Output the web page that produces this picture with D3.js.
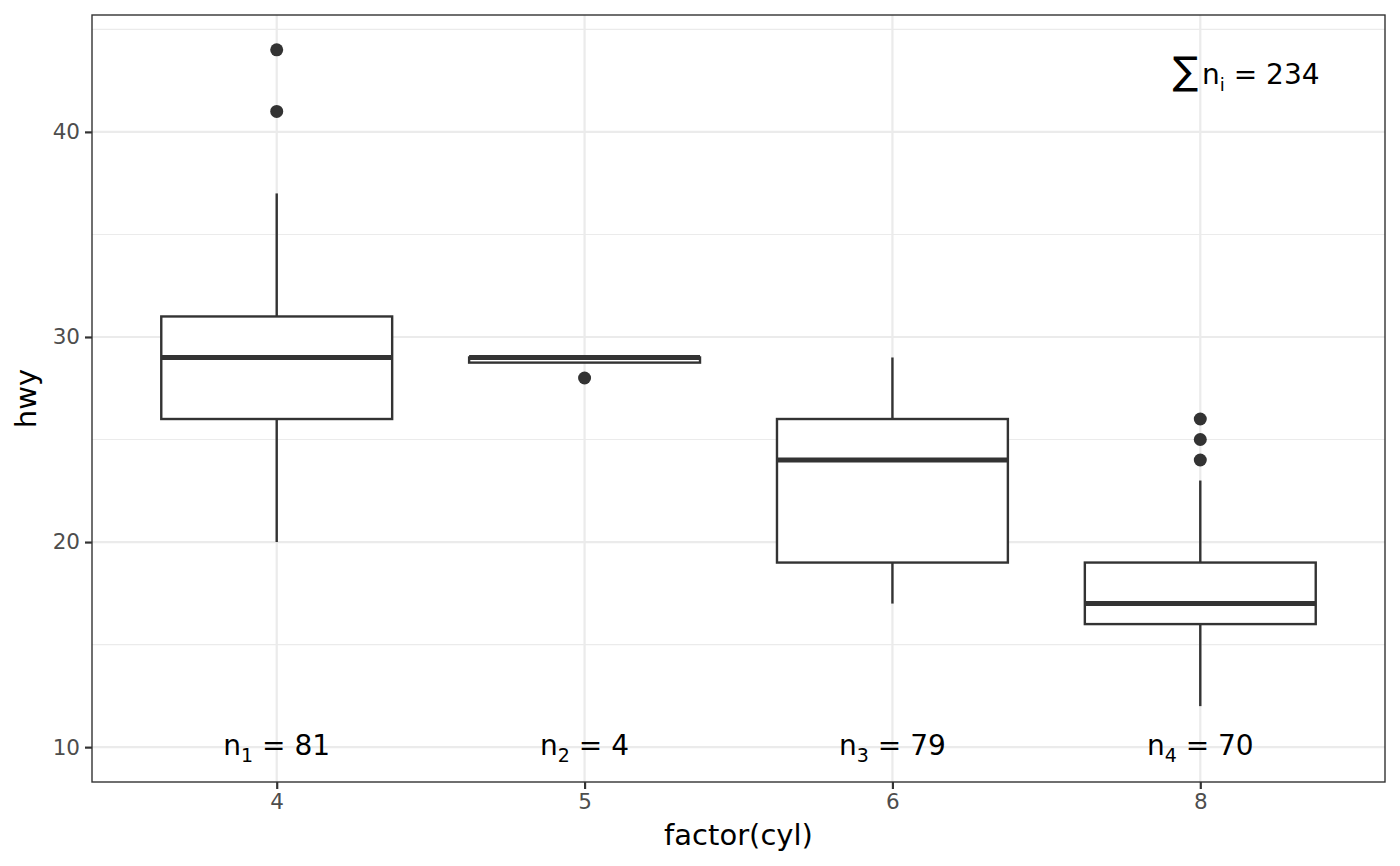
<!DOCTYPE html>
<html>
<head>
<meta charset="utf-8">
<script src="https://cdn.jsdelivr.net/npm/d3@7"></script>
<style>
  body { margin: 0; background: #fff; }
  text { font-family: "DejaVu Sans", sans-serif; }
</style>
</head>
<body>
<div id="chart"></div>
<script>
// cylinder groups and box statistics
const cyl = ['4', '5', '6', '8']
const lower = [26, 28.75, 19, 16]
const middle = [29, 29, 24, 17]
const upper = [31, 29, 26, 19]
const ymin = [20, 29, 17, 12]
const ymax = [37, 29, 29, 23]
const outliers = [[41, 44], [28], [], [24, 25, 26]]
const counts = [81, 4, 79, 70]
const yTicks = [10, 20, 30, 40]
const yMinor = [15, 25, 35, 45]

const width = 1400
const height = 866
const margin = { top: 15, right: 15, bottom: 84, left: 92 }

const svg = d3.select('#chart').append('svg')
  .attr('width', width)
  .attr('height', height)

const x = d3.scalePoint(cyl, [margin.left, width - margin.right]).padding(0.6)
const y = d3.scaleLinear([8.3, 45.7], [height - margin.bottom, margin.top])
const step = x.step()
const boxW = step * 0.75

const g = svg.append('g')

// grid
g.selectAll('.minor').data(yMinor).enter().append('line')
  .attr('x1', margin.left).attr('x2', width - margin.right)
  .attr('y1', d => y(d)).attr('y2', d => y(d))
  .attr('stroke', '#ebebeb').attr('stroke-width', 1.1)
g.selectAll('.major').data(yTicks).enter().append('line')
  .attr('x1', margin.left).attr('x2', width - margin.right)
  .attr('y1', d => y(d)).attr('y2', d => y(d))
  .attr('stroke', '#ebebeb').attr('stroke-width', 2.2)
g.selectAll('.vmajor').data(cyl).enter().append('line')
  .attr('x1', d => x(d)).attr('x2', d => x(d))
  .attr('y1', margin.top).attr('y2', height - margin.bottom)
  .attr('stroke', '#ebebeb').attr('stroke-width', 2.2)

// boxes
const dat = cyl.map((c, i) => ({ c, i }))
const box = g.selectAll('.box').data(dat).enter().append('g')

box.append('line')
  .attr('x1', d => x(d.c)).attr('x2', d => x(d.c))
  .attr('y1', d => y(upper[d.i])).attr('y2', d => y(ymax[d.i]))
  .attr('stroke', '#333').attr('stroke-width', 2.4)
box.append('line')
  .attr('x1', d => x(d.c)).attr('x2', d => x(d.c))
  .attr('y1', d => y(lower[d.i])).attr('y2', d => y(ymin[d.i]))
  .attr('stroke', '#333').attr('stroke-width', 2.4)
box.append('rect')
  .attr('x', d => x(d.c) - boxW / 2)
  .attr('y', d => y(upper[d.i]))
  .attr('width', boxW)
  .attr('height', d => y(lower[d.i]) - y(upper[d.i]))
  .attr('fill', 'white')
  .attr('stroke', '#333').attr('stroke-width', 2.4)
box.append('line')
  .attr('x1', d => x(d.c) - boxW / 2).attr('x2', d => x(d.c) + boxW / 2)
  .attr('y1', d => y(middle[d.i])).attr('y2', d => y(middle[d.i]))
  .attr('stroke', '#333').attr('stroke-width', 5)

box.selectAll('circle').data(d => outliers[d.i].map(v => ({ c: d.c, v }))).enter().append('circle')
  .attr('cx', d => x(d.c))
  .attr('cy', d => y(d.v))
  .attr('r', 6.5)
  .attr('fill', '#333')

// n labels
const nl = g.selectAll('.nlab').data(dat).enter().append('text')
  .attr('x', d => x(d.c))
  .attr('y', y(10) + 8)
  .attr('text-anchor', 'middle')
  .attr('font-size', 28)
  .attr('fill', 'black')
nl.append('tspan').text('n')
nl.append('tspan').text(d => d.i + 1).attr('font-size', 19).attr('dy', 7)
nl.append('tspan').text(d => ' = ' + counts[d.i]).attr('dy', -7)

// total label
const total = d3.sum(counts)
const tl = g.append('text')
  .attr('x', 1246).attr('y', 84)
  .attr('text-anchor', 'middle')
  .attr('fill', 'black')
  .attr('font-size', 28)
tl.append('tspan').text('∑').attr('font-size', 38)
tl.append('tspan').text('n').attr('dx', 4)
tl.append('tspan').text('i').attr('font-size', 18).attr('dy', 7)
tl.append('tspan').text(' = ' + total).attr('dy', -7)

// panel border
g.append('rect')
  .attr('x', margin.left).attr('y', margin.top)
  .attr('width', width - margin.left - margin.right)
  .attr('height', height - margin.top - margin.bottom)
  .attr('fill', 'none').attr('stroke', '#333').attr('stroke-width', 1.4)

// axes
const xAxis = g.append('g')
  .attr('transform', `translate(0,${height - margin.bottom})`)
  .call(d3.axisBottom(x).tickSize(7).tickPadding(5))
const yAxis = g.append('g')
  .attr('transform', `translate(${margin.left},0)`)
  .call(d3.axisLeft(y).tickValues(yTicks).tickSize(7).tickPadding(5))
;[xAxis, yAxis].forEach(a => {
  a.select('.domain').remove()
  a.selectAll('line').attr('stroke', '#333').attr('stroke-width', 2.2)
  a.selectAll('text').attr('fill', '#4d4d4d').attr('font-size', 21.5)
})

g.append('text')
  .attr('x', (margin.left + width - margin.right) / 2)
  .attr('y', 845)
  .attr('text-anchor', 'middle')
  .attr('font-size', 29)
  .text('factor(cyl)')
g.append('text')
  .attr('transform', `translate(36,${(margin.top + height - margin.bottom) / 2}) rotate(-90)`)
  .attr('text-anchor', 'middle')
  .attr('font-size', 29)
  .text('hwy')
</script>
</body>
</html>
